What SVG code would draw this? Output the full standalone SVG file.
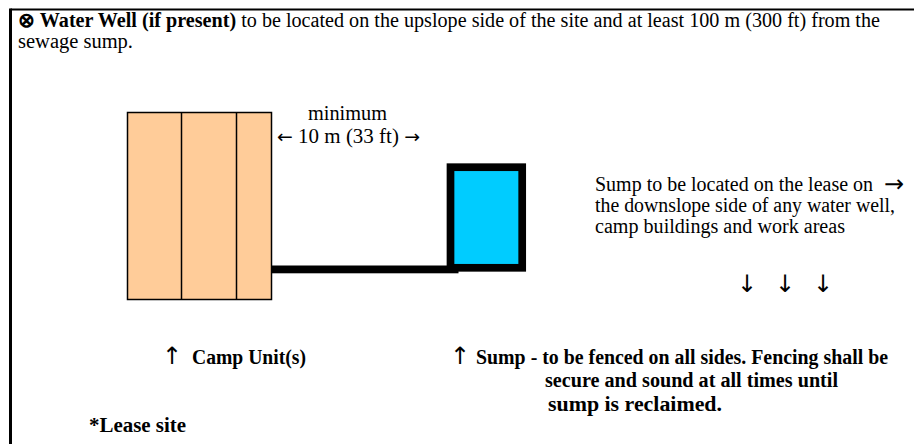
<svg xmlns="http://www.w3.org/2000/svg" width="914" height="444" viewBox="0 0 914 444">
<style>
text{font-family:"Liberation Serif","Times New Roman",serif;font-size:20px;fill:#000}
.b{font-weight:bold}
.ar{font-family:"DejaVu Sans",sans-serif;font-size:24px}
.camp{fill:#FFCC99;stroke:#000;stroke-width:1.5}
</style>
<rect width="914" height="444" fill="#fff"/>
<g id="frame">
<line x1="10.5" y1="9.5" x2="914" y2="9.5" stroke="#000" stroke-width="2"/>
<line x1="10.5" y1="8.5" x2="10.5" y2="444" stroke="#000" stroke-width="3"/>
</g>
<g id="title">
<text x="18" y="27" textLength="862" lengthAdjust="spacingAndGlyphs"><tspan class="b">⊗ Water Well (if present)</tspan> to be located on the upslope side of the site and at least 100 m (300 ft) from the</text>
<text x="18" y="48" textLength="115" lengthAdjust="spacingAndGlyphs">sewage sump.</text>
</g>
<g id="camp-unit">
<rect class="camp" x="127.5" y="112.5" width="144" height="187"/>
<line x1="181.5" y1="112.5" x2="181.5" y2="299.5" stroke="#000" stroke-width="1.5"/>
<line x1="236.5" y1="112.5" x2="236.5" y2="299.5" stroke="#000" stroke-width="1.5"/>
</g>
<g id="sump">
<rect x="450.5" y="167.2" width="71.7" height="100.6" fill="#00CCFF" stroke="#000" stroke-width="7.7"/>
</g>
<g id="connectors">
<rect x="271.5" y="265.5" width="187" height="7.8" fill="#000"/>
</g>
<g id="distance-label">
<text x="308" y="120" textLength="79" lengthAdjust="spacingAndGlyphs">minimum</text>
<text x="277" y="143" textLength="143" lengthAdjust="spacingAndGlyphs"><tspan font-family="DejaVu Sans" font-size="18">←</tspan> 10 m (33 ft) <tspan font-family="DejaVu Sans" font-size="18">→</tspan></text>
</g>
<g id="slope-note">
<text x="595" y="191" textLength="278" lengthAdjust="spacingAndGlyphs">Sump to be located on the lease on</text>
<text class="ar" x="884" y="192" font-size="22">→</text>
<text x="595" y="212" textLength="300" lengthAdjust="spacingAndGlyphs">the downslope side of any water well,</text>
<text x="595" y="233" textLength="250" lengthAdjust="spacingAndGlyphs">camp buildings and work areas</text>
<text class="ar" x="737" y="292">↓</text>
<text class="ar" x="775" y="292">↓</text>
<text class="ar" x="813" y="292">↓</text>
</g>
<g id="camp-label">
<text class="ar" x="162" y="364">↑</text>
<text class="b" x="192" y="364" textLength="114" lengthAdjust="spacingAndGlyphs">Camp Unit(s)</text>
</g>
<g id="sump-label">
<text class="ar" x="450" y="364">↑</text>
<text class="b" x="476" y="364" textLength="412" lengthAdjust="spacingAndGlyphs">Sump - to be fenced on all sides. Fencing shall be</text>
<text class="b" x="545" y="387" textLength="293" lengthAdjust="spacingAndGlyphs">secure and sound at all times until</text>
<text class="b" x="548" y="411" textLength="174" lengthAdjust="spacingAndGlyphs">sump is reclaimed.</text>
</g>
<g id="lease-label">
<text class="b" x="89" y="432" textLength="97" lengthAdjust="spacingAndGlyphs">*Lease site</text>
</g>
</svg>
